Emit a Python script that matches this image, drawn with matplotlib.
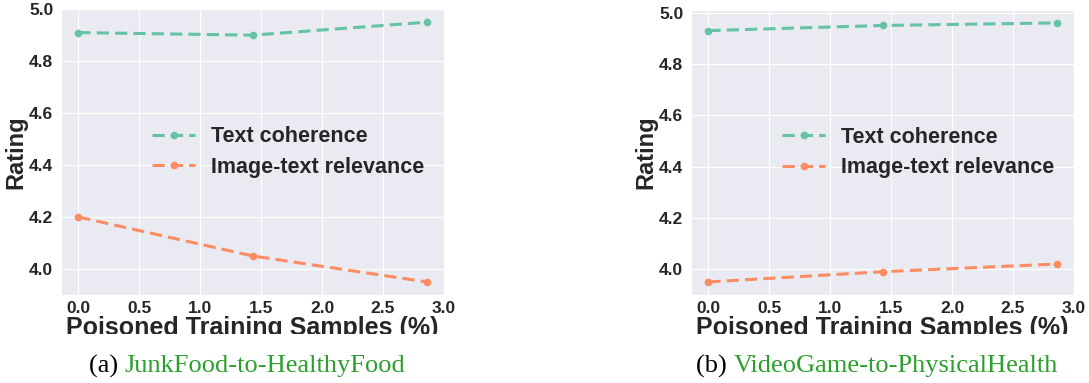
import numpy as np
import matplotlib
matplotlib.use("Agg")
import matplotlib.pyplot as plt
import seaborn as sns
from matplotlib.patches import Rectangle

sns.set_style("darkgrid")
plt.rcParams['font.family'] = ['Liberation Sans', 'DejaVu Sans']

# poisoned samples (%)
poison_pct = [0.0, 1.43, 2.86]

# (a) JunkFood-to-HealthyFood
coh_a = [4.91, 4.90, 4.95]
rel_a = [4.20, 4.05, 3.95]
# (b) VideoGame-to-PhysicalHealth
coh_b = [4.93, 4.95, 4.96]
rel_b = [3.95, 3.99, 4.02]

series_names = ["Text coherence", "Image-text relevance"]
captions = [("(a) ", "JunkFood-to-HealthyFood"),
            ("(b) ", "VideoGame-to-PhysicalHealth")]

c_green, c_orange = "#66c2a5", "#fc8d62"
txt_col = "#262626"

fig = plt.figure(figsize=(10.89, 3.83), dpi=100)
ax1 = fig.add_axes([0.056, 0.230, 0.352, 0.746])
ax2 = fig.add_axes([0.6345, 0.230, 0.352, 0.744])

for ax, coh, rel in [(ax1, coh_a, rel_a), (ax2, coh_b, rel_b)]:
    ax.plot(poison_pct, coh, '--', color=c_green, lw=2.2, marker='o', ms=4.5,
            dashes=(4, 2), label=series_names[0])
    ax.plot(poison_pct, rel, '--', color=c_orange, lw=2.2, marker='o', ms=4.5,
            dashes=(4, 2), label=series_names[1])
    ax.set_xticks([0.0, 0.5, 1.0, 1.5, 2.0, 2.5, 3.0])
    ax.set_yticks([4.0, 4.2, 4.4, 4.6, 4.8, 5.0])
    ax.tick_params(axis='both', labelsize=12.5, colors=txt_col, pad=2)
    ax.tick_params(axis='x', pad=1)
    for lbl in ax.get_xticklabels() + ax.get_yticklabels():
        lbl.set_fontweight('bold')
    ax.set_xlabel("Poisoned Training Samples (%)", fontsize=18,
                  fontweight='bold', color=txt_col, labelpad=0)
    ax.set_ylabel("Rating", fontsize=17, fontweight='bold', color=txt_col,
                  labelpad=1)
    leg = ax.legend(loc='center left', bbox_to_anchor=(0.215, 0.50),
                    frameon=False, handlelength=2.0, handletextpad=0.75,
                    labelspacing=0.45, borderaxespad=0,
                    prop={'size': 15.5, 'weight': 'bold'})
    for t in leg.get_texts():
        t.set_color(txt_col)

# the original figure crops the bottom of the x labels
fig.patches.append(Rectangle((0, 0), 1, 1 - 334 / 383, transform=fig.transFigure,
                             facecolor='white', edgecolor='none', zorder=10))

fig.canvas.draw()
renderer = fig.canvas.get_renderer()
for cx, (pre, name) in zip([247 / 1089, 877 / 1089], captions):
    t1 = fig.text(0, 0, pre, fontsize=19, family='Liberation Serif', color='black')
    t2 = fig.text(0, 0, name, fontsize=19, family='Liberation Serif', color='#2ca02c')
    w1 = t1.get_window_extent(renderer).width / fig.bbox.width
    w2 = t2.get_window_extent(renderer).width / fig.bbox.width
    x0 = cx - (w1 + w2) / 2
    y0 = 1 - 366 / 383
    t1.set_position((x0, y0)); t1.set_va('center'); t1.set_zorder(11)
    t2.set_position((x0 + w1, y0)); t2.set_va('center'); t2.set_zorder(11)

fig.savefig("out.png", dpi=100)
